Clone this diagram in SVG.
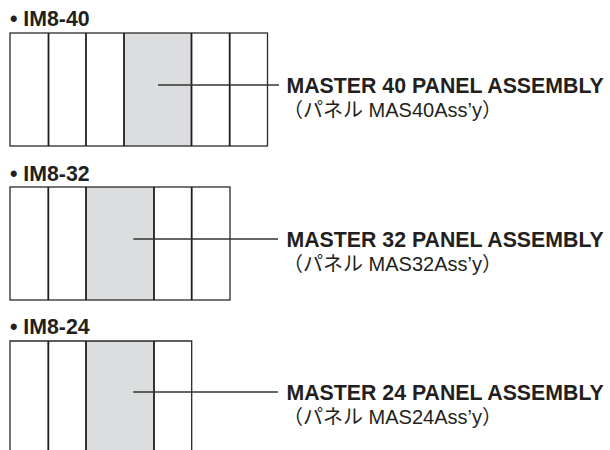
<svg xmlns="http://www.w3.org/2000/svg" width="610" height="450" viewBox="0 0 610 450">
<style>
.bg{fill:#ffffff}
.frame{fill:none;stroke:#2a2a2a;stroke-width:1.3}
.div{stroke:#1e1e1e;stroke-width:1.8}
.shade{fill:#dcdddf}
.lead{stroke:#333333;stroke-width:1.3}
.hd{font-family:"Liberation Sans",Arial,sans-serif;font-weight:bold;font-size:21.3px;fill:#231f20}
.ttl{font-family:"Liberation Sans",Arial,sans-serif;font-weight:bold;font-size:21.3px;fill:#231f20}
.sub{font-family:"Liberation Sans","Noto Sans CJK JP",sans-serif;font-size:20px;fill:#231f20}
</style>
<rect class="bg" x="0" y="0" width="610" height="450"/>
<g id="im8-40">
<text class="hd" x="10" y="26">• IM8-40</text>
<rect class="shade" x="124" y="33" width="67.5" height="113"/>
<rect class="frame" x="10" y="33" width="257.5" height="113"/>
<line class="div" x1="48.5" y1="33" x2="48.5" y2="146"/>
<line class="div" x1="86" y1="33" x2="86" y2="146"/>
<line class="div" x1="124" y1="33" x2="124" y2="146"/>
<line class="div" x1="191.5" y1="33" x2="191.5" y2="146"/>
<line class="div" x1="229.7" y1="33" x2="229.7" y2="146"/>
</g>
<g id="im8-32">
<text class="hd" x="10" y="180.5">• IM8-32</text>
<rect class="shade" x="86" y="187" width="68" height="113"/>
<rect class="frame" x="10" y="187" width="220" height="113"/>
<line class="div" x1="48.3" y1="187" x2="48.3" y2="300"/>
<line class="div" x1="86" y1="187" x2="86" y2="300"/>
<line class="div" x1="154" y1="187" x2="154" y2="300"/>
<line class="div" x1="191.7" y1="187" x2="191.7" y2="300"/>
</g>
<g id="im8-24">
<text class="hd" x="10" y="334">• IM8-24</text>
<rect class="shade" x="86" y="341" width="68" height="110"/>
<path class="frame" d="M10 451 V341 H191.7 V451"/>
<line class="div" x1="48.3" y1="341" x2="48.3" y2="451"/>
<line class="div" x1="86" y1="341" x2="86" y2="451"/>
<line class="div" x1="154" y1="341" x2="154" y2="451"/>
</g>
<g id="label-40">
<text class="ttl" x="286.5" y="93">MASTER 40 PANEL ASSEMBLY</text>
<text class="sub" x="283" y="117">（パネル MAS40Ass’y）</text>
</g>
<g id="label-32">
<text class="ttl" x="286.5" y="247">MASTER 32 PANEL ASSEMBLY</text>
<text class="sub" x="283" y="271">（パネル MAS32Ass’y）</text>
</g>
<g id="label-24">
<text class="ttl" x="286.5" y="400">MASTER 24 PANEL ASSEMBLY</text>
<text class="sub" x="283" y="424">（パネル MAS24Ass’y）</text>
</g>
<g id="connectors">
<line class="lead" x1="158" y1="85" x2="279" y2="85"/>
<line class="lead" x1="133.3" y1="239" x2="278" y2="239"/>
<line class="lead" x1="133.3" y1="392" x2="278" y2="392"/>
</g>
</svg>
